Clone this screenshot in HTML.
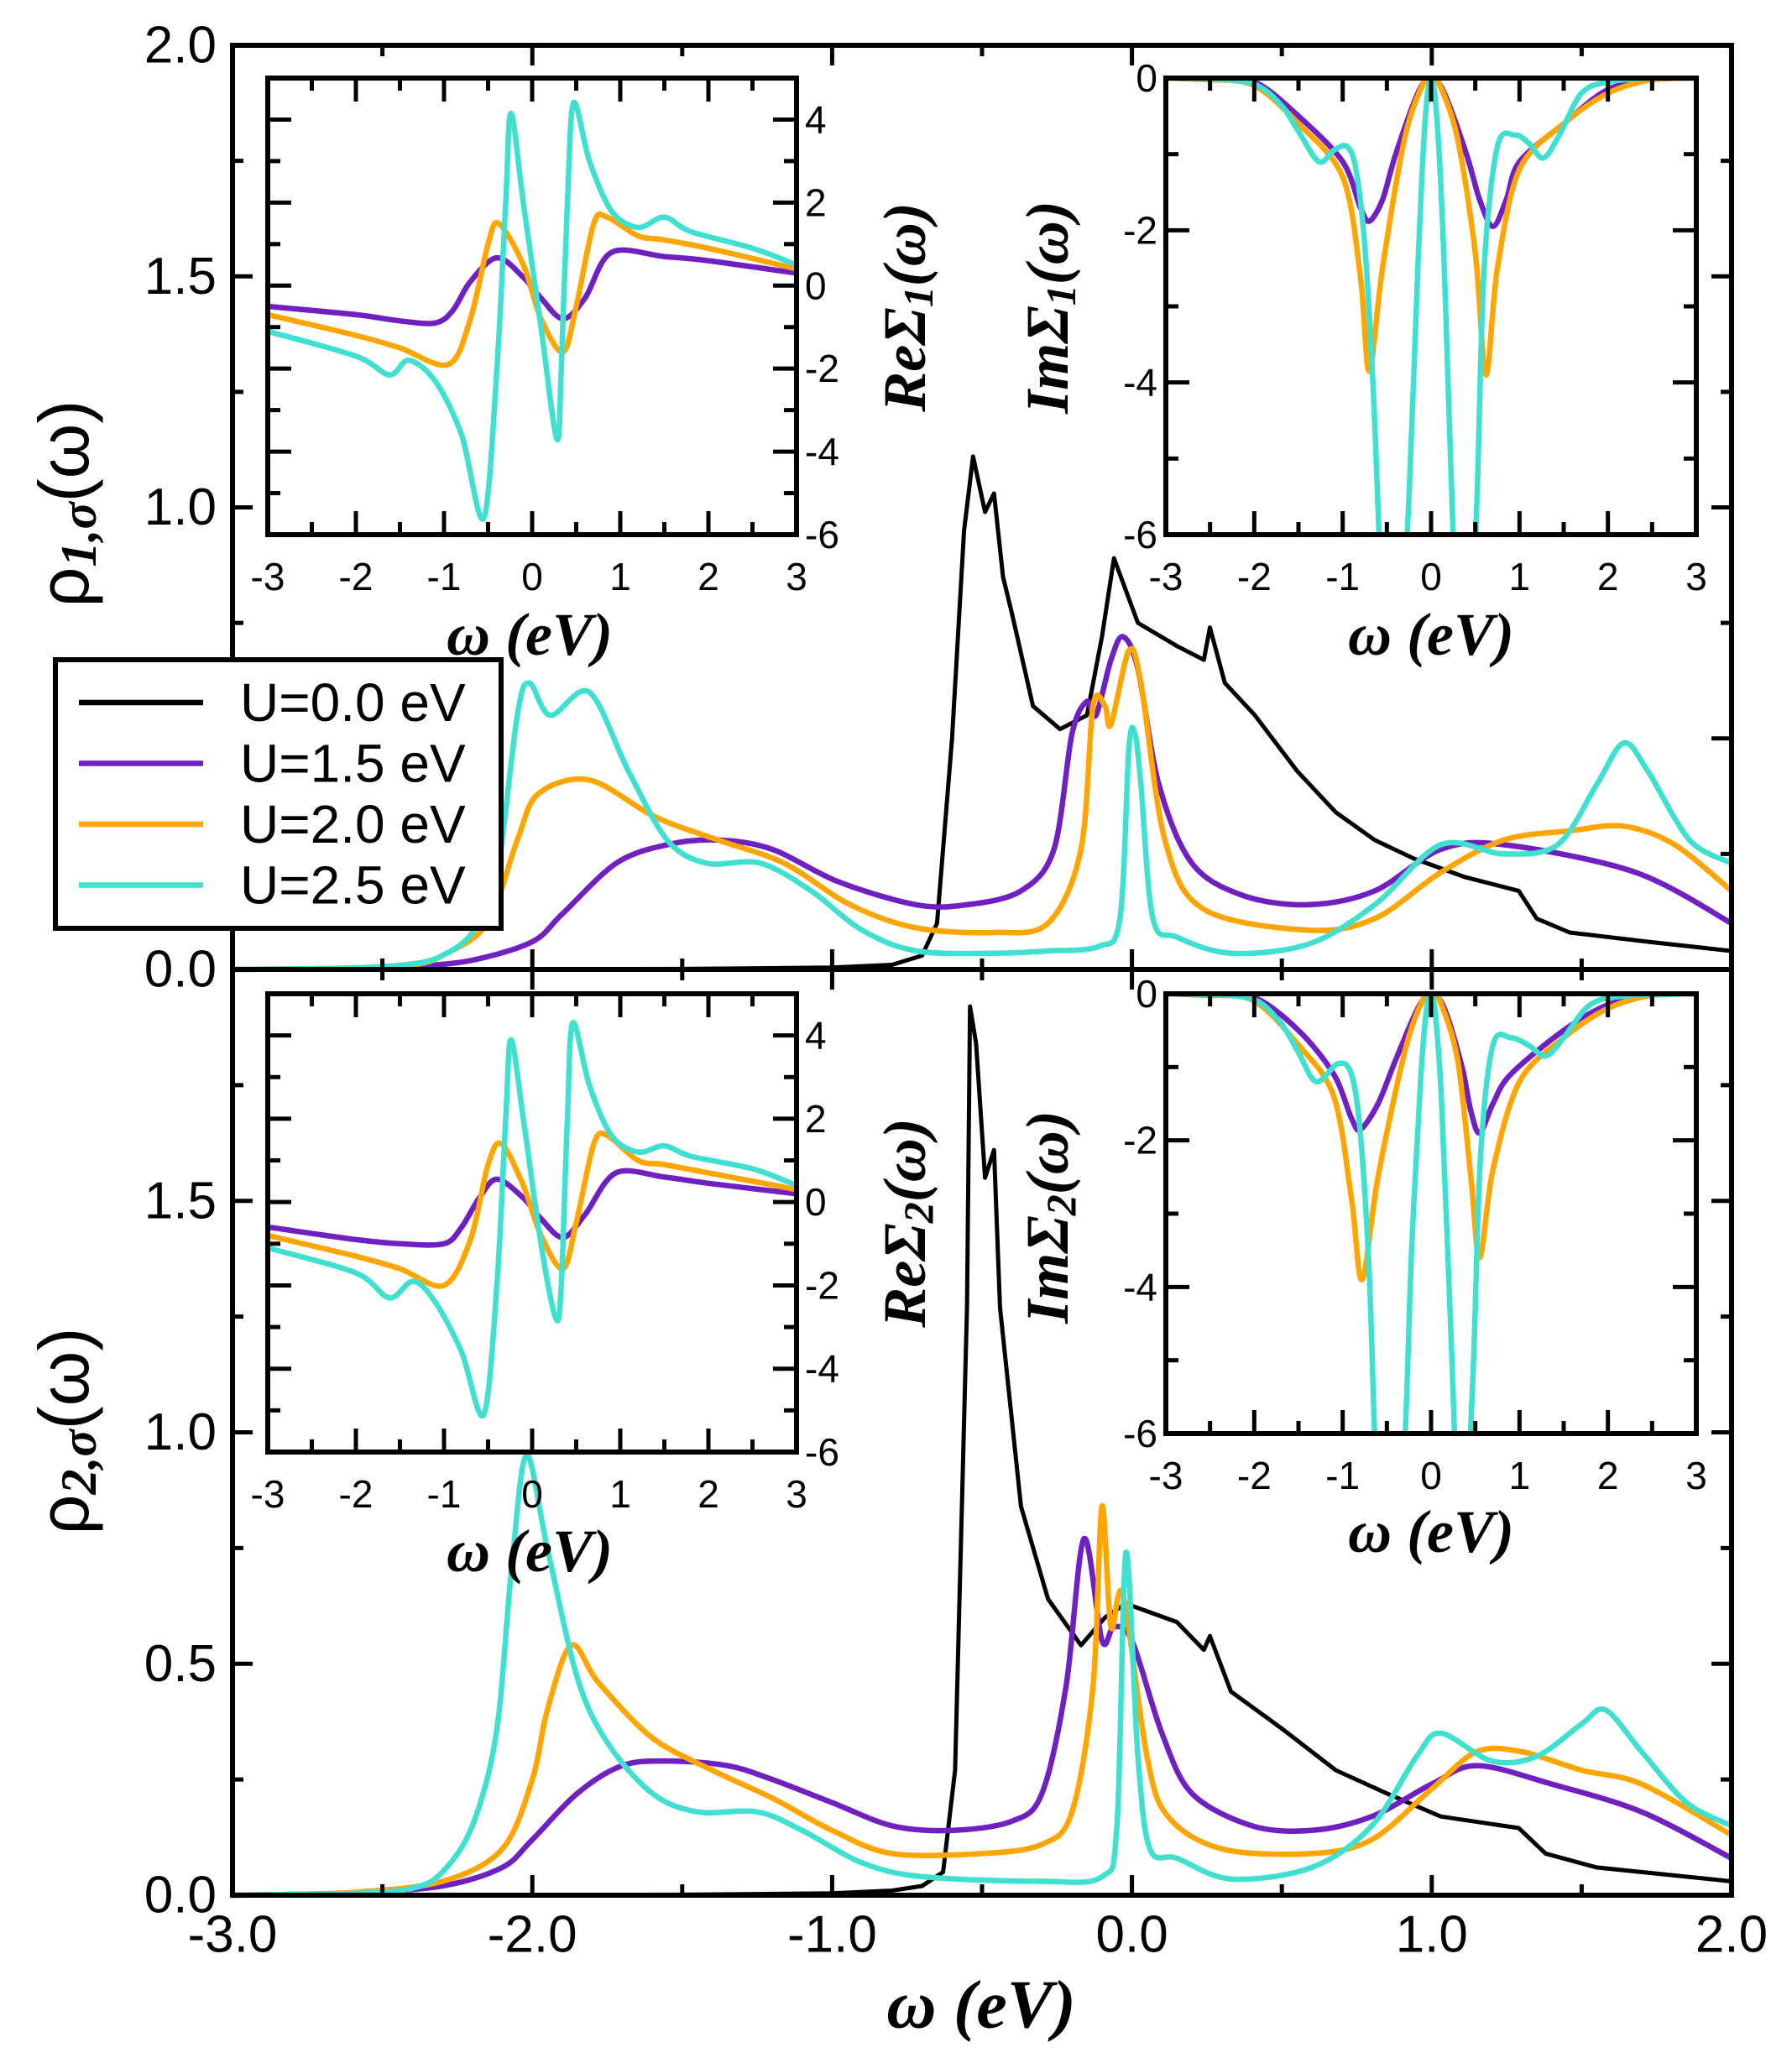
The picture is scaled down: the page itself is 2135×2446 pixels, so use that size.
<!DOCTYPE html>
<html><head><meta charset="utf-8">
<style>
html,body{margin:0;padding:0;background:#fff;}
svg{display:block;}
.tick{font-family:"Liberation Sans",sans-serif;fill:#000;}
.lab{font-family:"Liberation Serif",serif;font-weight:bold;font-style:italic;fill:#000;}
</style></head>
<body>
<svg id="chart" width="2135" height="2446" viewBox="0 0 2135 2446" xmlns="http://www.w3.org/2000/svg"></svg>
<script>
// ---------- Main panel data (omega in eV, rho) ----------
const topU0_w = [-3,-1.5,-1,-0.8,-0.7,-0.65,-0.6,-0.56,-0.53,-0.49,-0.46,-0.43,-0.4,-0.33,-0.24,-0.15,-0.1,-0.06,0.02,0.15,0.24,0.26,0.31,0.41,0.55,0.68,0.81,0.94,1.11,1.29,1.35,1.46,1.72,2.0];
const topU0_r = [0,0.001,0.004,0.01,0.03,0.1,0.5,0.95,1.11,0.99,1.03,0.85,0.77,0.57,0.52,0.55,0.72,0.89,0.75,0.70,0.67,0.74,0.62,0.55,0.43,0.34,0.28,0.24,0.20,0.17,0.11,0.08,0.06,0.04];
const topU15_w = [-3,-2.6,-2.4,-2.2,-2.0,-1.9,-1.72,-1.55,-1.38,-1.2,-0.98,-0.72,-0.55,-0.37,-0.26,-0.2,-0.15,-0.12,-0.07,-0.03,0.02,0.09,0.2,0.37,0.59,0.81,1.03,1.24,1.68,2.0];
const topU15_r = [0,0.002,0.006,0.02,0.06,0.12,0.23,0.27,0.28,0.26,0.19,0.14,0.14,0.17,0.26,0.51,0.58,0.55,0.67,0.72,0.65,0.40,0.23,0.16,0.14,0.17,0.26,0.27,0.21,0.10];
const topU20_w = [-3,-2.6,-2.4,-2.3,-2.15,-2.05,-1.98,-1.81,-1.59,-1.38,-1.16,-0.94,-0.72,-0.46,-0.28,-0.17,-0.13,-0.09,-0.07,-0.01,0.03,0.11,0.24,0.59,0.81,1.03,1.24,1.46,1.64,1.81,2.0];
const topU20_r = [0,0.003,0.01,0.03,0.1,0.28,0.38,0.41,0.33,0.28,0.23,0.14,0.09,0.08,0.10,0.26,0.57,0.57,0.53,0.69,0.62,0.28,0.13,0.085,0.11,0.21,0.28,0.30,0.31,0.27,0.17];
const topU25_w = [-3,-2.6,-2.4,-2.3,-2.2,-2.12,-2.05,-2.01,-1.94,-1.81,-1.68,-1.55,-1.42,-1.24,-1.07,-0.9,-0.72,-0.46,-0.28,-0.11,-0.04,-0.01,0.01,0.03,0.07,0.15,0.33,0.59,0.81,1.03,1.24,1.42,1.55,1.64,1.72,1.86,2.0];
const topU25_r = [0,0.003,0.012,0.03,0.08,0.2,0.55,0.62,0.55,0.60,0.43,0.28,0.23,0.23,0.17,0.085,0.04,0.035,0.04,0.05,0.11,0.48,0.51,0.40,0.11,0.07,0.035,0.055,0.14,0.27,0.25,0.27,0.40,0.49,0.43,0.28,0.23];

const botU0_w = [-3,-1.5,-1,-0.8,-0.7,-0.63,-0.59,-0.55,-0.54,-0.52,-0.49,-0.46,-0.44,-0.37,-0.28,-0.17,-0.09,-0.02,0.15,0.24,0.26,0.33,0.5,0.68,0.85,1.03,1.29,1.38,1.55,2.0];
const botU0_r = [0,0.001,0.004,0.01,0.02,0.05,0.27,1.27,1.92,1.84,1.55,1.61,1.27,0.84,0.64,0.54,0.60,0.63,0.59,0.53,0.56,0.44,0.36,0.27,0.22,0.17,0.145,0.09,0.06,0.03];
const botU15_w = [-3,-2.6,-2.3,-2.1,-2.0,-1.85,-1.7,-1.55,-1.35,-1.2,-1.0,-0.8,-0.6,-0.4,-0.3,-0.22,-0.16,-0.1,-0.06,0.0,0.1,0.2,0.4,0.6,0.8,1.0,1.15,1.4,1.7,2.0];
const botU15_r = [0,0.005,0.02,0.06,0.12,0.22,0.28,0.29,0.28,0.25,0.20,0.15,0.14,0.16,0.22,0.45,0.77,0.55,0.58,0.55,0.35,0.22,0.15,0.14,0.17,0.24,0.28,0.24,0.18,0.08];
const botU20_w = [-3,-2.6,-2.3,-2.1,-2.0,-1.95,-1.87,-1.78,-1.6,-1.4,-1.2,-1.0,-0.8,-0.5,-0.3,-0.2,-0.13,-0.1,-0.07,-0.03,0.05,0.12,0.3,0.6,0.8,1.0,1.15,1.3,1.5,1.7,2.0];
const botU20_r = [0,0.006,0.03,0.1,0.25,0.4,0.54,0.46,0.34,0.27,0.21,0.14,0.09,0.09,0.11,0.18,0.45,0.84,0.58,0.65,0.30,0.17,0.10,0.09,0.12,0.23,0.31,0.31,0.27,0.24,0.13];
const botU25_w = [-3,-2.6,-2.4,-2.3,-2.2,-2.12,-2.07,-2.02,-1.95,-1.85,-1.75,-1.6,-1.45,-1.25,-1.1,-0.9,-0.7,-0.3,-0.1,-0.05,-0.02,0.02,0.06,0.15,0.33,0.6,0.8,0.95,1.03,1.2,1.35,1.5,1.58,1.7,1.85,2.0];
const botU25_r = [0,0.004,0.015,0.05,0.15,0.35,0.7,0.95,0.75,0.47,0.33,0.22,0.18,0.18,0.14,0.07,0.04,0.03,0.04,0.15,0.74,0.30,0.10,0.08,0.035,0.06,0.15,0.30,0.35,0.29,0.30,0.37,0.40,0.31,0.20,0.15];

// ---------- Inset data: Re Sigma ----------
const re1U15_w = [-3,-2,-1.5,-1.1,-0.9,-0.7,-0.4,-0.1,0.1,0.35,0.6,0.9,1.5,2,3];
const re1U15_y = [-0.5,-0.7,-0.85,-0.9,-0.6,0.1,0.67,0.2,-0.3,-0.8,-0.3,0.8,0.7,0.6,0.3];
const re1U20_w = [-3,-2,-1.5,-0.95,-0.7,-0.5,-0.38,-0.1,0.1,0.35,0.5,0.7,0.85,1.2,1.5,2,3];
const re1U20_y = [-0.7,-1.2,-1.5,-1.9,-0.8,1.0,1.5,0.5,-0.8,-1.6,-0.5,1.5,1.65,1.2,1.1,0.9,0.4];
const re1U25_w = [-3,-2,-1.62,-1.4,-1.1,-0.8,-0.55,-0.4,-0.3,-0.24,-0.1,0.1,0.28,0.33,0.4,0.47,0.65,0.9,1.2,1.5,1.8,2.5,3];
const re1U25_y = [-1.1,-1.7,-2.15,-1.8,-2.3,-3.6,-5.6,-2,2,4.15,2,-1,-3.7,-2,2,4.4,3,1.8,1.4,1.65,1.3,0.9,0.5];
const re2U15_w = [-3,-2,-1.5,-1.0,-0.8,-0.6,-0.4,-0.1,0.1,0.35,0.6,0.95,1.5,2,3];
const re2U15_y = [-0.6,-0.9,-1.0,-1.0,-0.6,0.1,0.55,0.1,-0.4,-0.85,-0.3,0.7,0.6,0.45,0.2];
const re2U20_w = [-3,-2,-1.5,-1.0,-0.7,-0.5,-0.35,-0.1,0.1,0.35,0.5,0.7,0.85,1.2,1.5,2,3];
const re2U20_y = [-0.8,-1.3,-1.6,-2.0,-0.9,0.9,1.4,0.4,-0.8,-1.6,-0.5,1.4,1.6,1.0,0.9,0.7,0.3];
const re2U25_w = [-3,-2,-1.62,-1.35,-1.1,-0.8,-0.55,-0.4,-0.3,-0.24,-0.1,0.1,0.27,0.33,0.4,0.46,0.65,0.9,1.2,1.5,1.8,2.5,3];
const re2U25_y = [-1.1,-1.7,-2.3,-1.9,-2.4,-3.6,-5.1,-2,2,3.9,2,-1,-2.8,-2,2,4.3,2.8,1.6,1.2,1.35,1.1,0.8,0.4];

// ---------- Inset data: Im Sigma ----------
const im1U15_w = [-3,-2.5,-2,-1.5,-1.0,-0.8,-0.7,-0.55,-0.4,-0.15,0,0.15,0.4,0.55,0.7,0.85,1.0,1.5,2,2.5,3];
const im1U15_y = [0,-0.02,-0.05,-0.5,-1.1,-1.7,-1.88,-1.6,-1.0,-0.2,0,-0.2,-1.0,-1.6,-1.95,-1.6,-1.1,-0.6,-0.15,-0.02,0];
const im1U20_w = [-3,-2.5,-2,-1.5,-1.0,-0.8,-0.7,-0.55,-0.3,-0.1,0,0.1,0.3,0.5,0.62,0.75,1.0,1.5,2,2.5,3];
const im1U20_y = [0,-0.02,-0.1,-0.6,-1.3,-2.6,-3.85,-2.5,-0.8,-0.1,0,-0.1,-0.8,-2.3,-3.9,-2.5,-1.2,-0.6,-0.2,-0.02,0];
const im1U25_w = [-3,-2.5,-2,-1.7,-1.5,-1.27,-1.1,-0.95,-0.85,-0.75,-0.65,-0.55,-0.45,-0.35,-0.25,-0.15,-0.07,0,0.07,0.15,0.25,0.35,0.45,0.52,0.6,0.75,0.95,1.1,1.27,1.45,1.7,2,2.5,3];
const im1U25_y = [0,-0.01,-0.08,-0.35,-0.7,-1.1,-0.95,-0.9,-1.2,-2.2,-4.2,-7,-8,-7.5,-5.5,-2.5,-0.6,0,-0.6,-2.5,-6,-8,-7.5,-5.5,-2.5,-0.9,-0.75,-0.85,-1.05,-0.75,-0.2,-0.05,0,0];
const im2U15_w = [-3,-2.5,-2,-1.5,-1.1,-0.9,-0.8,-0.6,-0.4,-0.15,0,0.15,0.35,0.45,0.55,0.7,0.9,1.5,2,2.5,3];
const im2U15_y = [0,-0.02,-0.05,-0.5,-1.1,-1.7,-1.85,-1.5,-0.9,-0.2,0,-0.2,-1.0,-1.6,-1.9,-1.5,-1.1,-0.5,-0.15,-0.02,0];
const im2U20_w = [-3,-2.5,-2,-1.5,-1.1,-0.9,-0.78,-0.6,-0.3,-0.1,0,0.1,0.3,0.45,0.55,0.7,1.0,1.5,2,2.5,3];
const im2U20_y = [0,-0.02,-0.1,-0.7,-1.4,-2.8,-3.9,-2.5,-0.8,-0.1,0,-0.1,-0.9,-2.5,-3.6,-2.4,-1.2,-0.6,-0.2,-0.02,0];
const im2U25_w = [-3,-2.5,-2,-1.7,-1.5,-1.3,-1.05,-0.9,-0.8,-0.7,-0.62,-0.5,-0.4,-0.3,-0.22,-0.12,-0.05,0,0.05,0.12,0.22,0.32,0.4,0.48,0.56,0.7,0.9,1.1,1.3,1.5,1.8,2.2,3];
const im2U25_y = [0,-0.01,-0.08,-0.4,-0.8,-1.2,-0.95,-1.1,-1.9,-3.8,-6.5,-8,-7.5,-6.2,-3.5,-1.2,-0.2,0,-0.3,-1.5,-4.5,-7.5,-7,-5,-2.2,-0.7,-0.6,-0.7,-0.85,-0.6,-0.15,-0.03,0];

// ---------- Axis ticks / labels ----------
const mainXTicks = [-3,-2,-1,0,1,2];
const mainXLabels = ["-3.0","-2.0","-1.0","0.0","1.0","2.0"];
const topYTicks = [0,0.5,1,1.5,2];
const topYLabels = ["0.0","0.5","1.0","1.5","2.0"];
const botYTicks = [0,0.5,1,1.5];
const botYLabels = ["0.0","0.5","1.0","1.5"];
const insetXTicks = [-3,-2,-1,0,1,2,3];
const reYTicks = [4,2,0,-2,-4,-6];
const imYTicks = [0,-2,-4,-6];
const legendLabels = ["U=0.0 eV","U=1.5 eV","U=2.0 eV","U=2.5 eV"];

// ---------- Rendering ----------
const NS = "http://www.w3.org/2000/svg";
const svg = document.getElementById('chart');
const COL = {u0:"#000000",u15:"#7020c0",u20:"#ffa500",u25:"#40e0d0"};
function mk(tag, attrs, parent){ const e=document.createElementNS(NS,tag); for(const k in attrs) e.setAttribute(k,attrs[k]); (parent||svg).appendChild(e); return e; }
function lin(d0,d1,r0,r1){ return v => r0 + (v-d0)*(r1-r0)/(d1-d0); }
function smoothPath(xs, ys, X, Y, smooth){
  const p = xs.map((x,i)=>[X(x),Y(ys[i])]);
  let d = "M"+p[0][0].toFixed(1)+","+p[0][1].toFixed(1);
  for(let i=0;i<p.length-1;i++){
    if(!smooth){ d += " L"+p[i+1][0].toFixed(1)+","+p[i+1][1].toFixed(1); continue; }
    const p0=p[Math.max(0,i-1)], p1=p[i], p2=p[i+1], p3=p[Math.min(p.length-1,i+2)];
    const t=0.16;
    const c1=[p1[0]+(p2[0]-p0[0])*t, p1[1]+(p2[1]-p0[1])*t];
    const c2=[p2[0]-(p3[0]-p1[0])*t, p2[1]-(p3[1]-p1[1])*t];
    d += " C"+c1[0].toFixed(1)+","+c1[1].toFixed(1)+" "+c2[0].toFixed(1)+","+c2[1].toFixed(1)+" "+p2[0].toFixed(1)+","+p2[1].toFixed(1);
  }
  return d;
}
function text(str, x, y, size, anchor, cls, parent){
  const t = mk('text',{x:x,y:y,'font-size':size,'text-anchor':anchor,'dominant-baseline':'central','class':cls},parent);
  t.textContent = str; return t;
}

const MX = lin(-3,2,277,2063);
const panels = [
  {name:'top', Y:lin(0,2,1155,54), y0:1155, y1:54, series:[[topU0_w,topU0_r,'u0'],[topU15_w,topU15_r,'u15'],[topU20_w,topU20_r,'u20'],[topU25_w,topU25_r,'u25']], yt:topYTicks, yl:topYLabels, ylab:'1,σ', ylabY:600},
  {name:'bottom', Y:lin(0,2,2258,1155), y0:2258, y1:1155, series:[[botU0_w,botU0_r,'u0'],[botU15_w,botU15_r,'u15'],[botU20_w,botU20_r,'u20'],[botU25_w,botU25_r,'u25']], yt:botYTicks, yl:botYLabels, ylab:'2,σ', ylabY:1705}
];
panels.forEach(P=>{
  const g = mk('g',{});
  
  
  P.series.forEach(s=>{
    const path = mk('path',{d:smoothPath(s[0],s[1],MX,P.Y,s[2]!=='u0'),fill:'none',stroke:COL[s[2]],'stroke-width':s[2]==='u0'?5:6.5,'stroke-linejoin':'round'},g);
    
    
  });
  for(let v=-3; v<=2.001; v+=0.5){
    const maj = Math.abs(v-Math.round(v))<1e-6, L = maj?24:13, x=MX(v);
    mk('line',{x1:x,x2:x,y1:P.y0,y2:P.y0-L,stroke:'#000','stroke-width':5},g);
    mk('line',{x1:x,x2:x,y1:P.y1,y2:P.y1+L,stroke:'#000','stroke-width':5},g);
  }
  for(let v=0; v<=2.001; v+=0.25){
    const maj = Math.abs(v*2-Math.round(v*2))<1e-6, L = maj?24:13, y=P.Y(v);
    mk('line',{x1:277,x2:277+L,y1:y,y2:y,stroke:'#000','stroke-width':5},g);
    mk('line',{x1:2063,x2:2063-L,y1:y,y2:y,stroke:'#000','stroke-width':5},g);
  }
  mk('rect',{x:277,y:P.y1,width:1786,height:P.y0-P.y1,fill:'none',stroke:'#000','stroke-width':6},g);
  P.yt.forEach((v,i)=>{
    const t=text(P.yl[i],258,P.Y(v),62,'end','tick',g);
    
    
  });
  const yt = mk('text',{transform:'translate(76,'+P.ylabY+') rotate(-90)','text-anchor':'middle','dominant-baseline':'central','font-size':84,'font-family':'"Liberation Sans",sans-serif'},g);
  
  
  yt.innerHTML = 'ρ<tspan dy="18" font-size="60" font-family="Liberation Serif, serif" font-weight="bold" font-style="italic">'+P.ylab+'</tspan><tspan dy="-18">(ω)</tspan>';
});
mainXTicks.forEach((v,i)=>{
  const t=text(mainXLabels[i],MX(v),2305,62,'middle','tick');
  
  
});
const xt = text('ω (eV)',1169,2388,82,'middle','lab');



const insets = [
  {id:'re1', x0:319,x1:949,y0:93,y1:637, d0:-6,d1:5, side:'right', yt:reYTicks, series:[[re1U15_w,re1U15_y,'u15'],[re1U20_w,re1U20_y,'u20'],[re1U25_w,re1U25_y,'u25']], title:['Re','1'], tx:1078, ty:366, xl:[631,756]},
  {id:'im1', x0:1389,x1:2021,y0:93,y1:637, d0:-6,d1:0, side:'left', yt:imYTicks, series:[[im1U15_w,im1U15_y,'u15'],[im1U20_w,im1U20_y,'u20'],[im1U25_w,im1U25_y,'u25']], title:['Im','1'], tx:1248, ty:366, xl:[1705,756]},
  {id:'re2', x0:319,x1:949,y0:1184,y1:1730, d0:-6,d1:5, side:'right', yt:reYTicks, series:[[re2U15_w,re2U15_y,'u15'],[re2U20_w,re2U20_y,'u20'],[re2U25_w,re2U25_y,'u25']], title:['Re','2'], tx:1078, ty:1457, xl:[631,1848]},
  {id:'im2', x0:1389,x1:2021,y0:1184,y1:1708, d0:-6,d1:0, side:'left', yt:imYTicks, series:[[im2U15_w,im2U15_y,'u15'],[im2U20_w,im2U20_y,'u20'],[im2U25_w,im2U25_y,'u25']], title:['Im','2'], tx:1248, ty:1450, xl:[1705,1825]}
];
const defs = mk('defs',{});
insets.forEach(I=>{
  const X=lin(-3,3,I.x0,I.x1), Y=lin(I.d0,I.d1,I.y1,I.y0);
  const g = mk('g',{});
  
  
  mk('rect',{x:I.x0,y:I.y0,width:I.x1-I.x0,height:I.y1-I.y0,fill:'#fff'},g);
  const cp = mk('clipPath',{id:'clip-'+I.id},defs);
  mk('rect',{x:I.x0,y:I.y0,width:I.x1-I.x0,height:I.y1-I.y0},cp);
  const cg = mk('g',{'clip-path':'url(#clip-'+I.id+')'},g);
  I.series.forEach(s=>{
    const p = mk('path',{d:smoothPath(s[0],s[1],X,Y,true),fill:'none',stroke:COL[s[2]],'stroke-width':6.5,'stroke-linejoin':'round'},cg);
    
    
  });
  for(let v=-3; v<=3.001; v+=0.5){
    const maj=Math.abs(v-Math.round(v))<1e-6, L=maj?28:15, x=X(v);
    mk('line',{x1:x,x2:x,y1:I.y1,y2:I.y1-L,stroke:'#000','stroke-width':5},g);
    mk('line',{x1:x,x2:x,y1:I.y0,y2:I.y0+L,stroke:'#000','stroke-width':5},g);
  }
  for(let v=I.d0; v<=I.d1+0.001; v+=1){
    const maj=(Math.round(v)%2===0), L=maj?28:15, y=Y(v);
    mk('line',{x1:I.x0,x2:I.x0+L,y1:y,y2:y,stroke:'#000','stroke-width':5},g);
    mk('line',{x1:I.x1,x2:I.x1-L,y1:y,y2:y,stroke:'#000','stroke-width':5},g);
  }
  mk('rect',{x:I.x0,y:I.y0,width:I.x1-I.x0,height:I.y1-I.y0,fill:'none',stroke:'#000','stroke-width':6},g);
  insetXTicks.forEach(v=>{
    const t=text(String(v),X(v),I.y1+50,46,'middle','tick',g);
    
    
  });
  I.yt.forEach(v=>{
    const t = I.side==='right' ? text(String(v),I.x1+10,Y(v),46,'start','tick',g) : text(String(v),I.x0-10,Y(v),46,'end','tick',g);
    
    
  });
  const tt = mk('text',{transform:'translate('+I.tx+','+I.ty+') rotate(-90)','text-anchor':'middle','dominant-baseline':'central','font-size':72,'class':'lab'},g);
  
  
  tt.innerHTML = I.title[0]+'Σ<tspan dy="16" font-size="50">'+I.title[1]+'</tspan><tspan dy="-16">(ω)</tspan>';
  const xl = text('ω (eV)',I.xl[0],I.xl[1],72,'middle','lab',g);
  
  
});

const lg = mk('g',{});


mk('rect',{x:66,y:786,width:531,height:320,fill:'#fff',stroke:'#000','stroke-width':6},lg);
['u0','u15','u20','u25'].forEach((k,i)=>{
  const y = 837 + i*72.5;
  const ln = mk('line',{x1:94,x2:242,y1:y,y2:y,stroke:COL[k],'stroke-width':6.5},lg);
  
  
  const t = text(legendLabels[i],286,y,64,'start','tick',lg);
  
  
});
</script>
</body></html>
